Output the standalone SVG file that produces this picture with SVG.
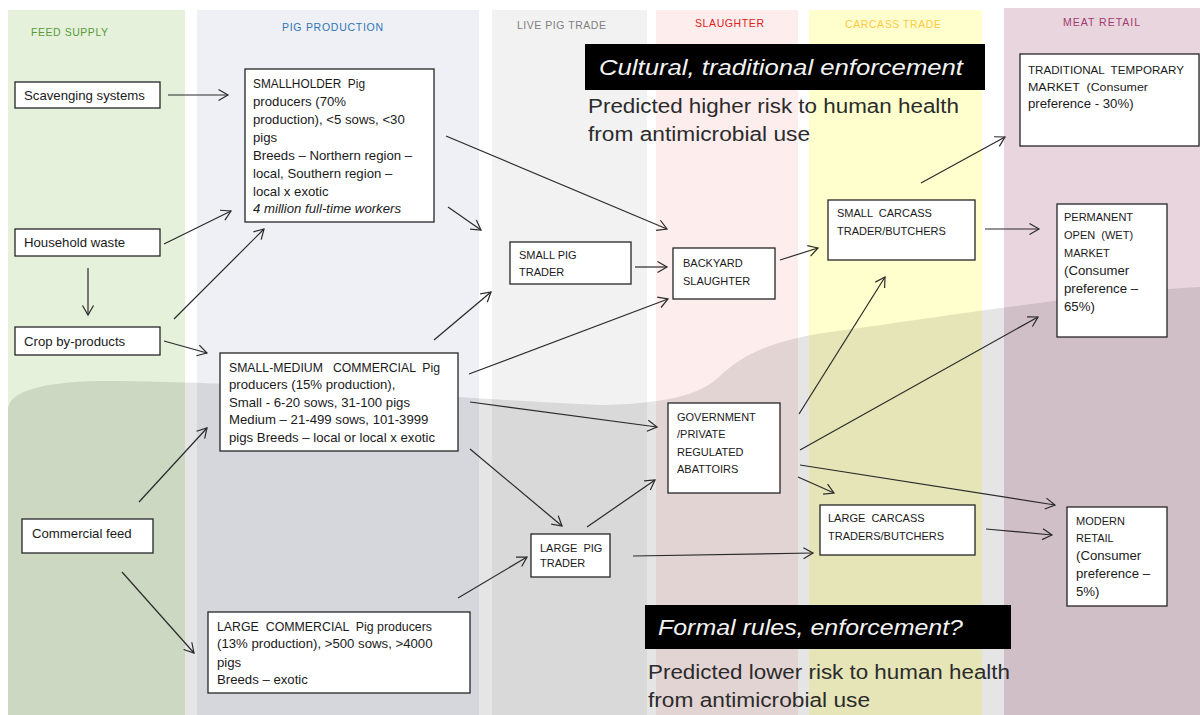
<svg xmlns="http://www.w3.org/2000/svg" width="1200" height="715" viewBox="0 0 1200 715">
<defs>
<marker id="ah" markerUnits="userSpaceOnUse" markerWidth="14" markerHeight="14" refX="11" refY="7" orient="auto">
<path d="M1.5,1.5 L11,7 L1.5,12.5" fill="none" stroke="#2a2a2a" stroke-width="1.2"/>
</marker>
</defs>
<style>
text{white-space:pre}
.box{fill:#fff;stroke:#262626;stroke-width:1.3}
.t{font-family:"Liberation Sans",Arial,sans-serif;font-size:13.2px;fill:#1a1a1a}
.c{font-family:"Liberation Sans",Arial,sans-serif;font-size:11px;fill:#1a1a1a}
.h{font-family:"Liberation Sans",Arial,sans-serif;font-size:10.5px}
.big{font-family:"Liberation Sans",Arial,sans-serif;font-size:20px;fill:#2b2b2b}
.ban{font-family:"Liberation Sans",Arial,sans-serif;font-size:22px;font-style:italic;fill:#f2f2f2}
#connectors line{stroke:#2a2a2a;stroke-width:1.2;marker-end:url(#ah)}
</style>
<rect width="1200" height="715" fill="#fff"/>
<g id="columns">
<rect x="8" y="10" width="177" height="705" fill="#e5f1da"/>
<rect x="197" y="10" width="282" height="705" fill="#eef0f5"/>
<rect x="492" y="10" width="155" height="705" fill="#f2f2f2"/>
<rect x="656" y="10" width="142" height="705" fill="#fdeded"/>
<rect x="809" y="10" width="173" height="705" fill="#ffffcd"/>
<rect x="1004" y="8" width="196" height="707" fill="#e8d5de"/>
<path d="M8,715 L8,410 C8,392 40,382 100,381 C 260,381 480,400 600,405 C 660,404 700,396 720,376 C 742,355 772,340 830,332 C 960,314 1100,292 1200,287 L1200,715 Z" fill="#000" fill-opacity="0.1"/>
</g>
<g id="headers">
<text class="h" x="31" y="36" fill="#5a9a3c" textLength="77">FEED SUPPLY</text>
<text class="h" x="282" y="31" fill="#2e75b6" textLength="101">PIG PRODUCTION</text>
<text class="h" x="517" y="29" fill="#808080" textLength="89">LIVE PIG TRADE</text>
<text class="h" x="695" y="27" fill="#e02020" textLength="69">SLAUGHTER</text>
<text class="h" x="845" y="28" fill="#ffc842" textLength="96">CARCASS TRADE</text>
<text class="h" x="1063" y="26" fill="#a23b72" textLength="77">MEAT RETAIL</text>
</g>
<g id="banner-top">
<rect x="585" y="44" width="400" height="46" fill="#000"/>
<text class="ban" x="599" y="75" textLength="364" lengthAdjust="spacingAndGlyphs">Cultural, traditional enforcement</text>
<text class="big" x="588" y="113" textLength="371" lengthAdjust="spacingAndGlyphs">Predicted higher risk to human health</text>
<text class="big" x="588" y="141" textLength="222" lengthAdjust="spacingAndGlyphs">from antimicrobial use</text>
</g>
<g id="banner-bottom">
<rect x="645" y="605" width="366" height="44" fill="#000"/>
<text class="ban" x="658" y="635" textLength="305" lengthAdjust="spacingAndGlyphs">Formal rules, enforcement?</text>
<text class="big" x="648" y="679" textLength="362" lengthAdjust="spacingAndGlyphs">Predicted lower risk to human health</text>
<text class="big" x="648" y="707" textLength="222" lengthAdjust="spacingAndGlyphs">from antimicrobial use</text>
</g>
<g id="connectors">
<line x1="168" y1="95" x2="228" y2="95"/>
<line x1="164" y1="244" x2="231" y2="211"/>
<line x1="88" y1="268" x2="88" y2="315"/>
<line x1="174" y1="319" x2="264" y2="229"/>
<line x1="164" y1="341" x2="207" y2="353"/>
<line x1="139" y1="502" x2="207" y2="428"/>
<line x1="122" y1="572" x2="194" y2="653"/>
<line x1="446" y1="136" x2="667" y2="229"/>
<line x1="448" y1="207" x2="481" y2="230"/>
<line x1="434" y1="340" x2="491" y2="292"/>
<line x1="469" y1="374" x2="668" y2="299"/>
<line x1="470" y1="402" x2="657" y2="427"/>
<line x1="470" y1="449" x2="562" y2="526"/>
<line x1="458" y1="598" x2="527" y2="557"/>
<line x1="635" y1="267" x2="667" y2="267"/>
<line x1="587" y1="527" x2="655" y2="480"/>
<line x1="633" y1="556" x2="813" y2="553"/>
<line x1="780" y1="260" x2="818" y2="248"/>
<line x1="799" y1="414" x2="885" y2="277"/>
<line x1="800" y1="450" x2="1038" y2="317"/>
<line x1="800" y1="465" x2="1055" y2="505"/>
<line x1="798" y1="477" x2="834" y2="493"/>
<line x1="921" y1="183" x2="1005" y2="137"/>
<line x1="985" y1="229" x2="1039" y2="229"/>
<line x1="986" y1="529" x2="1052" y2="535"/>
</g>
<g id="scavenging">
<rect class="box" x="15" y="82" width="145" height="26"/>
<text class="t" x="24" y="100">Scavenging systems</text>
</g>
<g id="household">
<rect class="box" x="15" y="229" width="145" height="27"/>
<text class="t" x="24" y="247">Household waste</text>
</g>
<g id="crop">
<rect class="box" x="15" y="327" width="145" height="28"/>
<text class="t" x="24" y="346">Crop by-products</text>
</g>
<g id="commercial-feed">
<rect class="box" x="22" y="519" width="131" height="34"/>
<text class="t" x="32" y="538">Commercial feed</text>
</g>
<g id="smallholder">
<rect class="box" x="245" y="69" width="189" height="153"/>
<text class="t" x="253" y="88" textLength="112" lengthAdjust="spacingAndGlyphs">SMALLHOLDER  Pig</text>
<text class="t" x="253" y="106">producers (70%</text>
<text class="t" x="253" y="124">production), &lt;5 sows, &lt;30</text>
<text class="t" x="253" y="142">pigs</text>
<text class="t" x="253" y="160">Breeds – Northern region –</text>
<text class="t" x="253" y="178">local, Southern region –</text>
<text class="t" x="253" y="196">local x exotic</text>
<text class="t" x="253" y="213" font-style="italic">4 million full-time workers</text>
</g>
<g id="small-medium">
<rect class="box" x="220" y="353" width="238" height="98"/>
<text class="t" x="229" y="372" textLength="211" lengthAdjust="spacingAndGlyphs">SMALL-MEDIUM   COMMERCIAL  Pig</text>
<text class="t" x="229" y="389">producers (15% production),</text>
<text class="t" x="229" y="407">Small - 6-20 sows, 31-100 pigs</text>
<text class="t" x="229" y="424">Medium – 21-499 sows, 101-3999</text>
<text class="t" x="229" y="442">pigs Breeds – local or local x exotic</text>
</g>
<g id="large-commercial">
<rect class="box" x="208" y="612" width="262" height="81"/>
<text class="t" x="217" y="631" textLength="215" lengthAdjust="spacingAndGlyphs">LARGE  COMMERCIAL  Pig producers</text>
<text class="t" x="217" y="648">(13% production), &gt;500 sows, &gt;4000</text>
<text class="t" x="217" y="667">pigs</text>
<text class="t" x="217" y="684">Breeds – exotic</text>
</g>
<g id="small-pig-trader">
<rect class="box" x="510" y="242" width="121" height="42"/>
<text class="c" x="519" y="259">SMALL PIG</text>
<text class="c" x="519" y="276">TRADER</text>
</g>
<g id="large-pig-trader">
<rect class="box" x="531" y="534" width="79" height="43"/>
<text class="c" x="540" y="552">LARGE  PIG</text>
<text class="c" x="540" y="567">TRADER</text>
</g>
<g id="backyard">
<rect class="box" x="673" y="248" width="102" height="51"/>
<text class="c" x="683" y="267">BACKYARD</text>
<text class="c" x="683" y="285">SLAUGHTER</text>
</g>
<g id="abattoirs">
<rect class="box" x="668" y="403" width="112" height="90"/>
<text class="c" x="677" y="421">GOVERNMENT</text>
<text class="c" x="677" y="438">/PRIVATE</text>
<text class="c" x="677" y="456">REGULATED</text>
<text class="c" x="677" y="473">ABATTOIRS</text>
</g>
<g id="small-carcass">
<rect class="box" x="828" y="200" width="147" height="60"/>
<text class="c" x="837" y="217">SMALL  CARCASS</text>
<text class="c" x="837" y="235">TRADER/BUTCHERS</text>
</g>
<g id="large-carcass">
<rect class="box" x="820" y="505" width="155" height="50"/>
<text class="c" x="828" y="522">LARGE  CARCASS</text>
<text class="c" x="828" y="540">TRADERS/BUTCHERS</text>
</g>
<g id="traditional-market">
<rect class="box" x="1020" y="54" width="179" height="92"/>
<text class="c" x="1028" y="74" textLength="156" lengthAdjust="spacingAndGlyphs">TRADITIONAL  TEMPORARY</text>
<text class="c" x="1028" y="91" textLength="120" lengthAdjust="spacingAndGlyphs" font-size="12.5px">MARKET  (Consumer</text>
<text class="t" x="1028" y="108" font-size="12px">preference - 30%)</text>
</g>
<g id="permanent-market">
<rect class="box" x="1057" y="204" width="110" height="133"/>
<text class="c" x="1064" y="221">PERMANENT</text>
<text class="c" x="1064" y="239">OPEN  (WET)</text>
<text class="c" x="1064" y="257">MARKET</text>
<text class="t" x="1064" y="275">(Consumer</text>
<text class="t" x="1064" y="293">preference –</text>
<text class="t" x="1064" y="311">65%)</text>
</g>
<g id="modern-retail">
<rect class="box" x="1067" y="507" width="100" height="99"/>
<text class="c" x="1076" y="525">MODERN</text>
<text class="c" x="1076" y="542">RETAIL</text>
<text class="t" x="1076" y="560">(Consumer</text>
<text class="t" x="1076" y="578">preference –</text>
<text class="t" x="1076" y="596">5%)</text>
</g>
</svg>
